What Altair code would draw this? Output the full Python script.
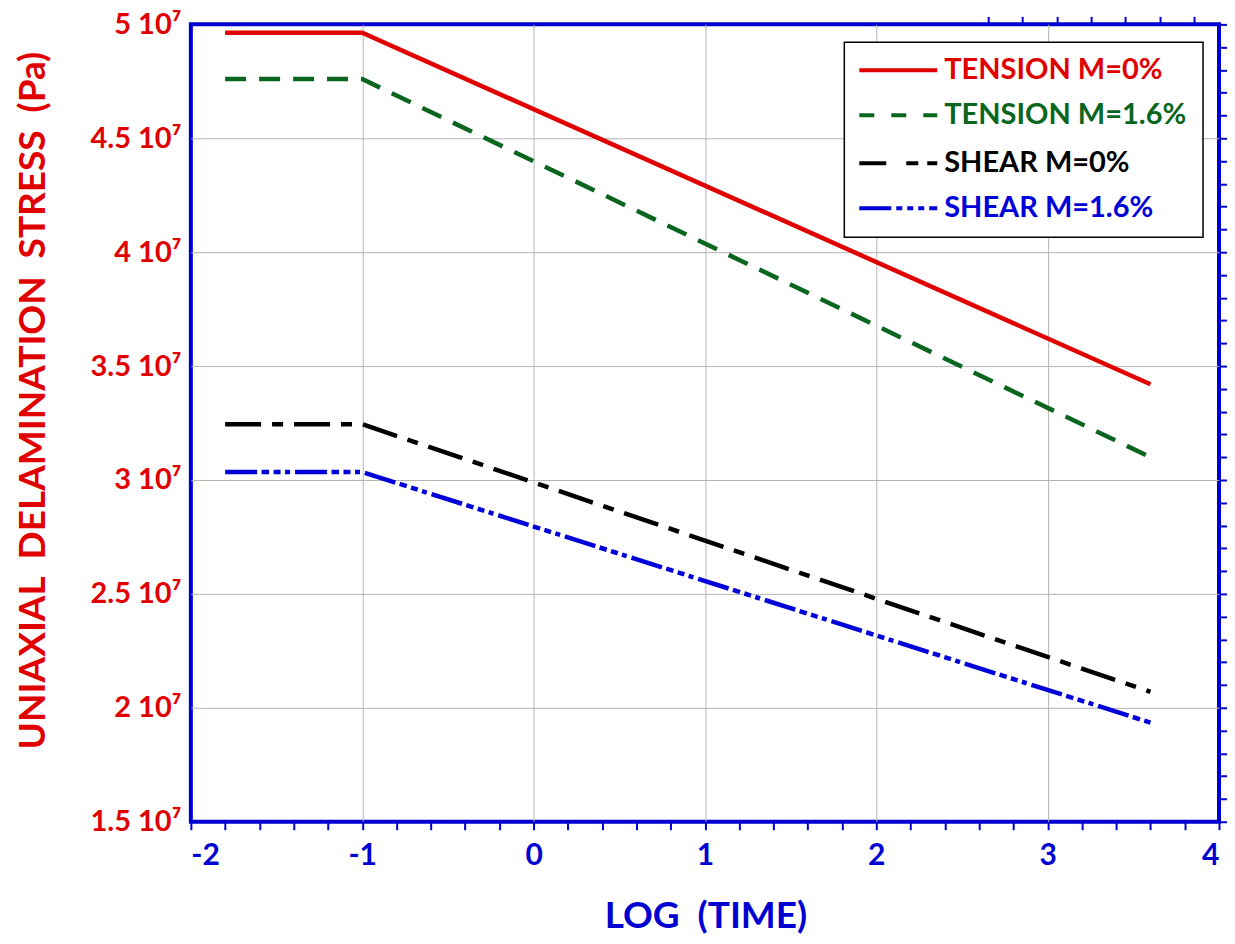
import altair as alt
import pandas as pd

# ---- data ----
log_time = [-1.8, -1.0, 3.6]
tension_m0 = [4.963e7, 4.963e7, 3.42e7]
tension_m16 = [4.76e7, 4.76e7, 3.10e7]
shear_m0 = [3.245e7, 3.245e7, 2.07e7]
shear_m16 = [3.035e7, 3.035e7, 1.935e7]

series_names = ["TENSION M=0%", "TENSION M=1.6%", "SHEAR M=0%", "SHEAR M=1.6%"]
series_values = [tension_m0, tension_m16, shear_m0, shear_m16]
series_colors = ["#e00000", "#0a661e", "#000000", "#0000d8"]
plot_dashes = [None, [21, 13], [36, 11, 11, 11], [32, 4.5, 7.5, 4.5, 7, 4.5, 5, 5]]
legend_dashes = [None, [15, 17], [27, 20, 12, 9, 10, 100], [32, 5, 6, 5, 6, 5, 6, 5, 8, 100]]

x_major = [-2, -1, 0, 1, 2, 3, 4]
x_minor = [-2 + 0.2 * i for i in range(31)]
y_major = [1.5e7, 2e7, 2.5e7, 3e7, 3.5e7, 4e7, 4.5e7, 5e7]
y_minor = [1.5e7 + 0.1e7 * i for i in range(36)]

BLUE = "#0000d0"
RED = "#e00000"
FONT = "Lato"
W, H = 1029, 798

rows = []
for name, vals in zip(series_names, series_values):
    for t, v in zip(log_time, vals):
        rows.append({"series": name, "t": t, "stress": v})
df = pd.DataFrame(rows)

xs = alt.Scale(domain=[-2, 4], nice=False, zero=False)
ys = alt.Scale(domain=[1.5e7, 5e7], nice=False, zero=False)

edge_hide_x = {"condition": {"test": "datum.value <= -2 || datum.value >= 4", "value": 0}, "value": 1}
edge_hide_y = {"condition": {"test": "datum.value <= 15000000 || datum.value >= 50000000", "value": 0}, "value": 1}

# Axis layer with labels, grid and titles
axis_main = alt.Chart(df).mark_point(opacity=0).encode(
    x=alt.X("t:Q", scale=xs, axis=alt.Axis(
        orient="bottom", values=x_major, grid=True, gridColor="#b4b4b4", gridWidth=1,
        gridOpacity=edge_hide_x, ticks=False, domain=False,
        labelExpr="toString(datum.value)", labelColor=BLUE, labelFont=FONT,
        labelFontSize=30, labelFontWeight="bold", labelPadding=19,
        title="LOG\u00a0\u00a0(TIME)", titleColor=BLUE, titleFont=FONT, titleFontSize=37,
        titleFontWeight="bold", titleX=515, titleY=106, titleAlign="center",
        titleBaseline="alphabetic")),
    y=alt.Y("stress:Q", scale=ys, axis=alt.Axis(
        orient="left", values=y_major, grid=True, gridColor="#b4b4b4", gridWidth=1,
        gridOpacity=edge_hide_y, ticks=False, domain=False,
        labelExpr="format(datum.value / 10000000, '.1~f') + ' 10\u2077'",
        labelColor=RED, labelFont=FONT, labelFontSize=29, labelFontWeight="bold",
        labelPadding=10,
        title="UNIAXIAL\u00a0\u00a0DELAMINATION\u00a0\u00a0STRESS\u00a0\u00a0(Pa)",
        titleColor=RED, titleFont=FONT, titleFontSize=37, titleFontWeight="bold",
        titleAngle=270, titleX=-146, titleY=376, titleAlign="center",
        titleBaseline="alphabetic")),
)

tick_common = dict(labels=False, grid=False, domain=False, ticks=True, tickSize=8,
                   tickColor=BLUE, tickWidth=2, title=None)

# Inward ticks on bottom and left edges
axis_b = alt.Chart(df).mark_point(opacity=0).encode(
    x=alt.X("t:Q", scale=xs, axis=alt.Axis(orient="top", position=H, values=x_minor, **tick_common)),
    y=alt.Y("stress:Q", scale=ys, axis=alt.Axis(orient="right", position=0, values=y_minor, **tick_common)),
)
# Inward ticks on top and right edges
axis_c = alt.Chart(df).mark_point(opacity=0).encode(
    x=alt.X("t:Q", scale=xs, axis=alt.Axis(orient="bottom", position=0, values=x_minor, **tick_common)),
    y=alt.Y("stress:Q", scale=ys, axis=alt.Axis(orient="left", position=W, values=y_minor, **tick_common)),
)

layers = [axis_main, axis_b, axis_c]

for name, color, dash in zip(series_names, series_colors, plot_dashes):
    kw = dict(color=color, strokeWidth=4.5, clip=True)
    if dash:
        kw["strokeDash"] = dash
    line = alt.Chart(df[df["series"] == name]).mark_line(**kw).encode(
        x=alt.X("t:Q", scale=xs, axis=None),
        y=alt.Y("stress:Q", scale=ys, axis=None),
    )
    layers.append(line)

# Legend box (plot-area pixel layout)
box = alt.Chart(pd.DataFrame({"k": [0]})).mark_rect(
    fill="white", stroke="black", strokeWidth=1.5
).encode(x=alt.value(654), x2=alt.value(1013), y=alt.value(18), y2=alt.value(213))
layers.append(box)

row_y = [46, 91, 139, 184]
for name, color, dash, yy in zip(series_names, series_colors, legend_dashes, row_y):
    kw = dict(color=color, strokeWidth=4)
    if dash:
        kw["strokeDash"] = dash
    ldf = pd.DataFrame({"name": [name]})
    sample = alt.Chart(ldf).mark_rule(**kw).encode(
        x=alt.value(669), x2=alt.value(747), y=alt.value(yy))
    label = alt.Chart(ldf).mark_text(
        align="left", baseline="middle", font=FONT, fontSize=29, fontWeight="bold", color=color
    ).encode(x=alt.value(754), y=alt.value(yy), text="name:N")
    layers += [sample, label]

chart = alt.layer(*layers).resolve_axis(
    x="independent", y="independent"
).properties(
    width=W, height=H,
    autosize=alt.AutoSizeParams(type="none"),
    padding={"left": 183, "top": 16, "right": 8, "bottom": 120},
).configure_view(stroke=BLUE, strokeWidth=4)

chart.save("out.html", embed_options={"renderer": "svg", "actions": False})
